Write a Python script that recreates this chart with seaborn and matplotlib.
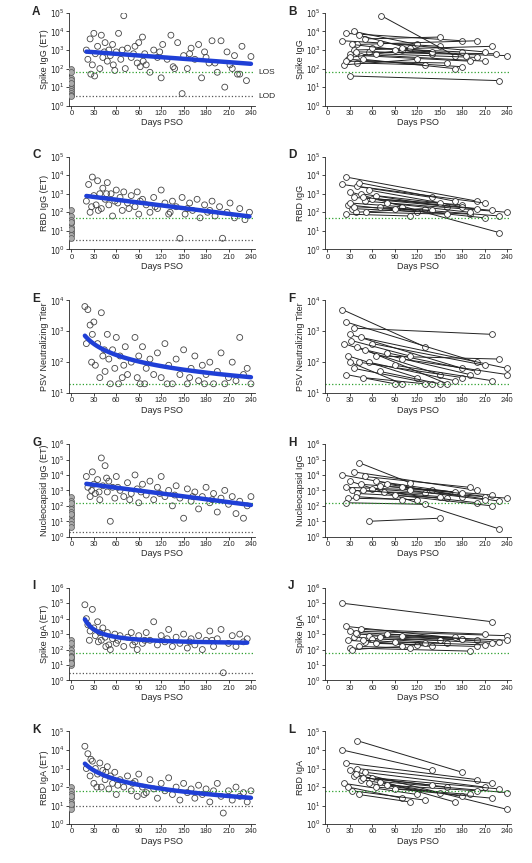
import numpy as np
import pandas as pd
import matplotlib
matplotlib.use("Agg")
import matplotlib.pyplot as plt
import seaborn as sns

sns.set_theme(style="ticks")
plt.rcParams['font.family'] = ['Liberation Sans', 'DejaVu Sans']

# values stored as log10 of titer
A = [(20,3.0),(22,2.5),(25,3.6),(28,2.2),(30,3.9),(32,2.8),(35,3.2),(38,2.0),(40,3.8),(42,2.6),(45,3.4),(48,2.4),(50,3.0),(52,2.7),(55,3.3),(58,1.9),(60,2.9),(63,3.9),(66,2.5),(70,4.85),(72,2.0),(75,3.1),(80,2.6),(85,3.2),(88,2.3),(90,3.4),(92,2.1),(95,3.7),(98,2.8),(100,2.2),(105,1.8),(110,3.0),(115,2.6),(120,1.5),(122,3.3),(128,2.5),(133,3.8),(138,2.0),(142,3.4),(148,0.65),(150,2.7),(155,2.0),(160,3.1),(165,2.5),(170,3.3),(174,1.5),(180,2.6),(184,2.3),(188,3.5),(195,1.8),(200,3.5),(205,1.0),(208,2.9),(212,2.2),(218,2.7),(222,1.7),(228,3.2),(234,1.35),(240,2.65),(26,1.7),(31,1.6),(44,2.9),(56,2.2),(68,3.0),(83,2.8),(96,2.4),(118,2.9),(136,2.1),(158,2.8),(178,2.9),(192,2.3),(215,2.0),(225,1.7)]
A0 = [2.0,1.8,1.5,1.3,1.1,1.0,0.9,0.8,0.7,0.6,0.5,1.4,1.2]
B = [(20,3.5,150,3.2),(25,3.9,180,3.5),(30,1.6,230,1.35),(35,4.0,120,3.3),(40,3.3,200,3.5),(72,4.85,170,2.7),(30,2.8,210,2.4),(28,2.5,180,2.1),(35,3.0,220,3.2),(45,2.7,190,2.4),(40,2.3,130,2.2),(50,3.6,150,3.7),(55,2.9,240,2.7),(22,2.2,120,2.5),(60,3.1,180,2.9),(33,3.3,140,2.8),(30,2.6,100,3.0),(65,2.8,200,2.6),(42,3.8,110,3.1),(25,2.4,160,2.3),(38,2.9,225,2.8),(70,3.4,210,2.9),(90,3.0,140,2.9),(48,2.5,170,2.0),(100,3.1,185,2.7)]
C = [(20,2.6),(23,3.5),(25,2.0),(28,3.9),(30,2.9),(33,2.4),(35,3.7),(38,3.0),(40,2.2),(42,3.3),(45,2.7),(48,3.6),(50,2.4),(53,3.0),(55,1.8),(58,2.6),(60,3.2),(65,2.8),(68,2.1),(70,3.1),(75,2.5),(80,2.9),(85,2.3),(88,3.1),(90,1.9),(95,2.7),(100,2.4),(105,2.0),(110,2.8),(115,2.2),(120,3.2),(125,2.5),(130,1.9),(135,2.6),(140,2.3),(145,0.6),(148,2.8),(152,1.9),(158,2.5),(162,2.1),(168,2.7),(172,1.7),(178,2.4),(182,2.0),(188,2.6),(192,1.8),(198,2.3),(202,0.6),(208,2.0),(212,2.5),(218,1.7),(225,2.2),(232,1.6),(238,2.0),(27,2.3),(36,2.1),(47,3.0),(62,2.5),(77,2.2),(92,2.6),(112,2.3),(132,2.0),(155,2.2),(185,2.1)]
C0 = [1.8,1.6,1.4,1.2,1.0,0.9,0.8,0.6,1.5,1.1,2.1]
D = [(20,3.5,140,2.8),(25,3.9,200,2.6),(30,3.1,230,0.9),(35,2.8,180,2.4),(40,3.4,210,2.5),(28,2.4,120,2.0),(33,2.2,190,1.9),(45,3.0,160,2.3),(50,2.6,240,2.0),(38,2.0,130,2.2),(55,3.2,180,2.3),(60,2.7,220,2.1),(30,2.5,100,2.3),(65,2.9,150,2.5),(42,3.6,170,2.6),(25,1.9,110,1.8),(70,2.3,230,1.8),(48,2.8,200,2.2),(80,2.5,190,2.0),(35,2.3,140,2.1),(90,2.2,210,1.7),(52,2.0,160,1.9)]
E = [(18,3.8),(20,2.6),(22,3.7),(25,3.2),(27,2.0),(30,3.3),(32,1.9),(35,2.6),(38,1.5),(40,3.6),(42,2.2),(45,1.7),(48,2.9),(50,2.1),(52,1.3),(55,2.4),(58,1.8),(60,2.8),(63,1.3),(65,2.2),(70,1.9),(72,2.5),(75,1.6),(80,2.0),(85,2.8),(88,1.5),(90,2.2),(92,1.3),(95,2.5),(100,1.8),(105,2.1),(110,1.6),(115,2.3),(120,1.5),(125,2.6),(130,1.9),(135,1.3),(140,2.1),(145,1.6),(150,2.4),(155,1.3),(160,1.8),(165,2.2),(170,1.4),(175,1.9),(180,1.6),(185,2.0),(190,1.3),(195,1.7),(200,2.3),(210,1.5),(215,2.0),(220,1.4),(225,2.8),(230,1.6),(235,1.8),(240,1.3),(28,2.9),(44,2.4),(68,1.5),(98,1.3),(128,1.3),(158,1.5),(178,1.3),(205,1.3)]
F = [(20,3.7,130,2.5),(25,3.3,200,2.0),(30,2.9,180,1.8),(22,2.6,150,1.6),(35,3.1,220,2.9),(40,2.5,160,1.3),(28,2.2,120,1.5),(45,2.8,240,1.8),(30,2.0,100,1.3),(50,2.4,190,1.6),(55,2.0,170,1.4),(35,1.8,140,1.3),(60,2.6,210,1.9),(25,1.6,90,1.3),(65,2.2,230,2.1),(42,2.0,180,1.5),(70,1.7,150,1.3),(80,2.3,200,1.7),(32,2.7,110,2.2),(90,1.9,220,1.4),(48,1.5,130,1.3),(100,2.1,240,1.6)]
G = [(20,3.9),(22,3.2),(25,2.6),(28,4.2),(30,3.4),(32,2.8),(35,3.7),(38,2.4),(40,5.1),(42,3.3),(45,4.6),(48,2.9),(50,3.6),(52,1.0),(55,3.2),(58,2.5),(60,3.9),(65,3.0),(70,2.6),(75,3.5),(80,2.8),(85,4.0),(88,3.1),(90,2.2),(95,3.4),(100,2.7),(105,3.6),(110,2.4),(115,3.2),(120,3.9),(125,2.6),(130,3.0),(135,2.0),(140,3.3),(145,2.5),(150,1.2),(155,3.1),(160,2.3),(165,2.9),(170,1.8),(175,2.6),(180,3.2),(185,2.2),(190,2.8),(195,1.6),(200,2.5),(205,3.0),(210,2.1),(215,2.6),(220,1.5),(225,2.3),(230,1.2),(235,2.0),(240,2.6),(27,3.0),(37,2.9),(47,3.8),(62,3.2),(78,2.4),(93,2.9),(118,2.8),(138,2.7),(162,2.6),(188,2.4)]
G0 = [2.6,2.3,2.0,1.8,1.6,1.4,1.2,1.0,0.8,0.6,2.2,1.5]
H = [(20,4.0,180,2.6),(25,3.2,140,3.0),(30,3.6,230,0.5),(35,4.2,200,3.0),(40,2.8,160,2.5),(45,3.4,220,2.7),(28,2.5,120,2.4),(50,3.9,190,3.2),(55,1.0,150,1.2),(60,3.1,240,2.5),(33,3.0,130,2.8),(65,3.6,210,2.6),(38,2.6,100,2.4),(70,3.3,170,2.9),(42,4.8,110,3.5),(75,2.9,200,2.2),(80,3.4,230,2.3),(48,3.0,150,2.6),(90,2.7,220,2.0),(100,3.2,180,2.8),(25,2.2,130,2.1),(110,3.0,210,2.4)]
I = [(18,4.9),(20,4.0),(22,3.6),(25,3.2),(28,4.6),(30,3.4),(32,2.9),(35,3.8),(38,3.1),(40,2.6),(42,3.4),(45,2.8),(48,3.1),(50,2.3),(52,2.0),(55,2.7),(58,3.0),(60,2.4),(65,2.9),(70,2.2),(75,2.8),(80,3.1),(85,2.5),(88,2.0),(90,2.9),(95,2.4),(100,3.1),(105,2.6),(110,3.8),(115,2.3),(120,2.9),(125,2.5),(130,3.3),(135,2.2),(140,2.8),(145,2.4),(150,3.0),(155,2.1),(160,2.7),(165,2.3),(170,2.9),(175,2.0),(180,2.6),(185,3.2),(190,2.2),(195,2.7),(200,3.3),(203,0.5),(210,2.4),(215,2.9),(220,2.2),(225,3.0),(230,2.5),(235,2.7),(24,2.6),(36,2.5),(46,2.2),(62,2.6),(82,2.3),(98,2.6),(128,2.7),(158,2.5),(188,2.6)]
I0 = [2.6,2.2,2.0,1.8,1.6,1.4,1.2,1.0,2.4,1.5,1.1]
J = [(20,5.0,220,3.8),(25,3.5,180,2.7),(30,3.2,240,2.9),(35,2.8,160,2.4),(40,3.0,200,2.6),(28,2.6,140,2.2),(45,3.3,210,3.0),(50,2.5,120,2.3),(30,2.1,190,1.9),(55,2.9,230,2.5),(60,2.7,150,2.6),(38,3.1,170,2.8),(65,2.4,200,2.2),(42,2.2,110,2.1),(70,2.8,220,2.4),(80,3.0,180,2.7),(48,2.6,130,2.4),(90,2.5,210,2.3),(100,2.9,240,2.6),(33,2.0,100,2.2)]
K = [(18,4.2),(20,3.0),(22,3.8),(25,2.6),(28,3.4),(30,2.2),(32,3.0),(35,2.7),(38,3.3),(40,2.0),(42,2.9),(45,2.4),(48,3.1),(50,1.9),(52,2.6),(55,2.2),(58,2.8),(60,1.6),(65,2.4),(70,2.0),(75,2.6),(80,1.8),(85,2.3),(88,1.5),(90,2.7),(95,2.0),(100,1.7),(105,2.4),(110,1.9),(115,1.4),(120,2.2),(125,1.8),(130,2.5),(135,1.6),(140,2.0),(145,1.3),(150,2.2),(155,1.7),(160,1.9),(165,1.4),(170,2.1),(175,1.6),(180,1.9),(185,1.2),(190,1.8),(195,2.2),(200,1.5),(203,0.6),(210,1.8),(215,1.3),(220,2.0),(225,1.5),(230,1.7),(235,1.2),(240,1.8),(26,3.5),(34,2.0),(46,2.8),(62,2.1),(82,2.2),(97,1.6)]
K0 = [2.0,1.8,1.6,1.4,1.2,1.0,0.8,1.5,1.1]
L = [(40,4.5,180,2.8),(20,4.0,140,2.9),(25,3.3,200,2.4),(30,2.9,240,0.8),(35,2.6,160,2.0),(22,2.2,120,1.6),(40,3.0,220,2.2),(45,2.4,180,1.5),(28,2.0,100,1.4),(50,2.8,210,2.0),(55,2.2,150,1.7),(33,1.8,130,1.3),(60,2.5,230,1.9),(38,2.7,170,1.2),(65,2.0,190,1.6),(70,2.3,240,1.7),(42,1.6,110,1.2),(80,2.1,200,1.8),(90,1.9,220,1.4),(48,2.5,140,2.1)]

left_labels = ["Spike IgG (ET)", "RBD IgG (ET)", "PSV Neutralizing Titer", "Nucleocapsid IgG (ET)", "Spike IgA (ET)", "RBD IgA (ET)"]
right_labels = ["Spike IgG", "RBD IgG", "PSV Neutralizing Titer", "Nucleocapsid IgG", "Spike IgA", "RBD IgA"]
letters = [("A","B"),("C","D"),("E","F"),("G","H"),("I","J"),("K","L")]
ylims = [(0,5),(0,5),(1,4),(0,6),(0,6),(0,5)]
los = [1.8, 1.7, 1.3, 2.2, 1.8, 1.8]
lod = [0.5, 0.5, None, 0.3, 0.5, 1.0]
fit_kind = ["lin", "lin", "pow", "lin", "exp", "pow"]
left_data = [A, C, E, G, I, K]
day0 = [A0, C0, None, G0, I0, K0]
right_data = [B, D, F, H, J, L]

fig, axes = plt.subplots(6, 2, figsize=(5.32, 8.63), dpi=100)
fig.subplots_adjust(left=0.13, right=0.96, top=0.985, bottom=0.045, hspace=0.55, wspace=0.38)
fs = 6.5

def style(ax, r, ylabel):
    lo, hi = ylims[r]
    ax.set_yscale("log")
    ax.set_ylim(10**lo, 10**hi)
    ax.set_yticks([10**k for k in range(lo, hi+1)])
    ax.set_yticklabels([f"$10^{{{k}}}$" for k in range(lo, hi+1)])
    ax.minorticks_off()
    ax.set_xlim(-3, 245)
    ax.set_xticks(range(0, 241, 30))
    ax.tick_params(labelsize=5.5, length=2, width=0.6, pad=1)
    ax.set_xlabel("Days PSO", fontsize=fs, labelpad=1)
    ax.set_ylabel(ylabel, fontsize=fs, labelpad=1)
    for s in ax.spines.values():
        s.set_linewidth(0.6)
    sns.despine(ax=ax)
    ax.axhline(10**los[r], color="#2ca02c", ls=":", lw=0.9)

for r in range(6):
    axl, axr = axes[r]
    df = pd.DataFrame(left_data[r], columns=["day", "lg"])
    df["val"] = 10**df["lg"]
    if lod[r] is not None:
        axl.axhline(10**lod[r], color="#555555", ls=":", lw=0.9)
    sns.scatterplot(data=df, x="day", y="val", ax=axl, s=18, facecolor="none",
                    edgecolor="#444444", linewidth=0.6, legend=False)
    if day0[r] is not None:
        axl.scatter(np.zeros(len(day0[r])), 10**np.array(day0[r]), s=18,
                    facecolor="#aaaaaa", edgecolor="#555555", linewidth=0.5, zorder=3)
    d = df["day"].values.astype(float); y = df["lg"].values
    xs = np.linspace(d.min(), d.max(), 100)
    if fit_kind[r] == "lin":
        p = np.polyfit(d, y, 1); ys = np.polyval(p, xs)
    elif fit_kind[r] == "pow":
        p = np.polyfit(np.log(d), y, 1); ys = np.polyval(p, np.log(xs))
    else:
        p = np.polyfit(1.0/d, y, 1); ys = np.polyval(p, 1.0/xs)
    axl.plot(xs, 10**ys, color="#1f3fd6", lw=3.2, zorder=4)
    style(axl, r, left_labels[r])

    for (d1, v1, d2, v2) in right_data[r]:
        axr.plot([d1, d2], [10**v1, 10**v2], color="#222222", lw=0.7, marker="o",
                 ms=4.2, mfc="white", mec="#333333", mew=0.6)
    style(axr, r, right_labels[r])

    for ax, lt in zip((axl, axr), letters[r]):
        ax.text(-0.2, 1.08, lt, transform=ax.transAxes, fontsize=8.5, fontweight="bold", va="top")

axes[0, 0].text(250, 10**los[0], "LOS", fontsize=6, va="center")
axes[0, 0].text(250, 10**lod[0], "LOD", fontsize=6, va="center")

fig.savefig("out.png", dpi=100)
